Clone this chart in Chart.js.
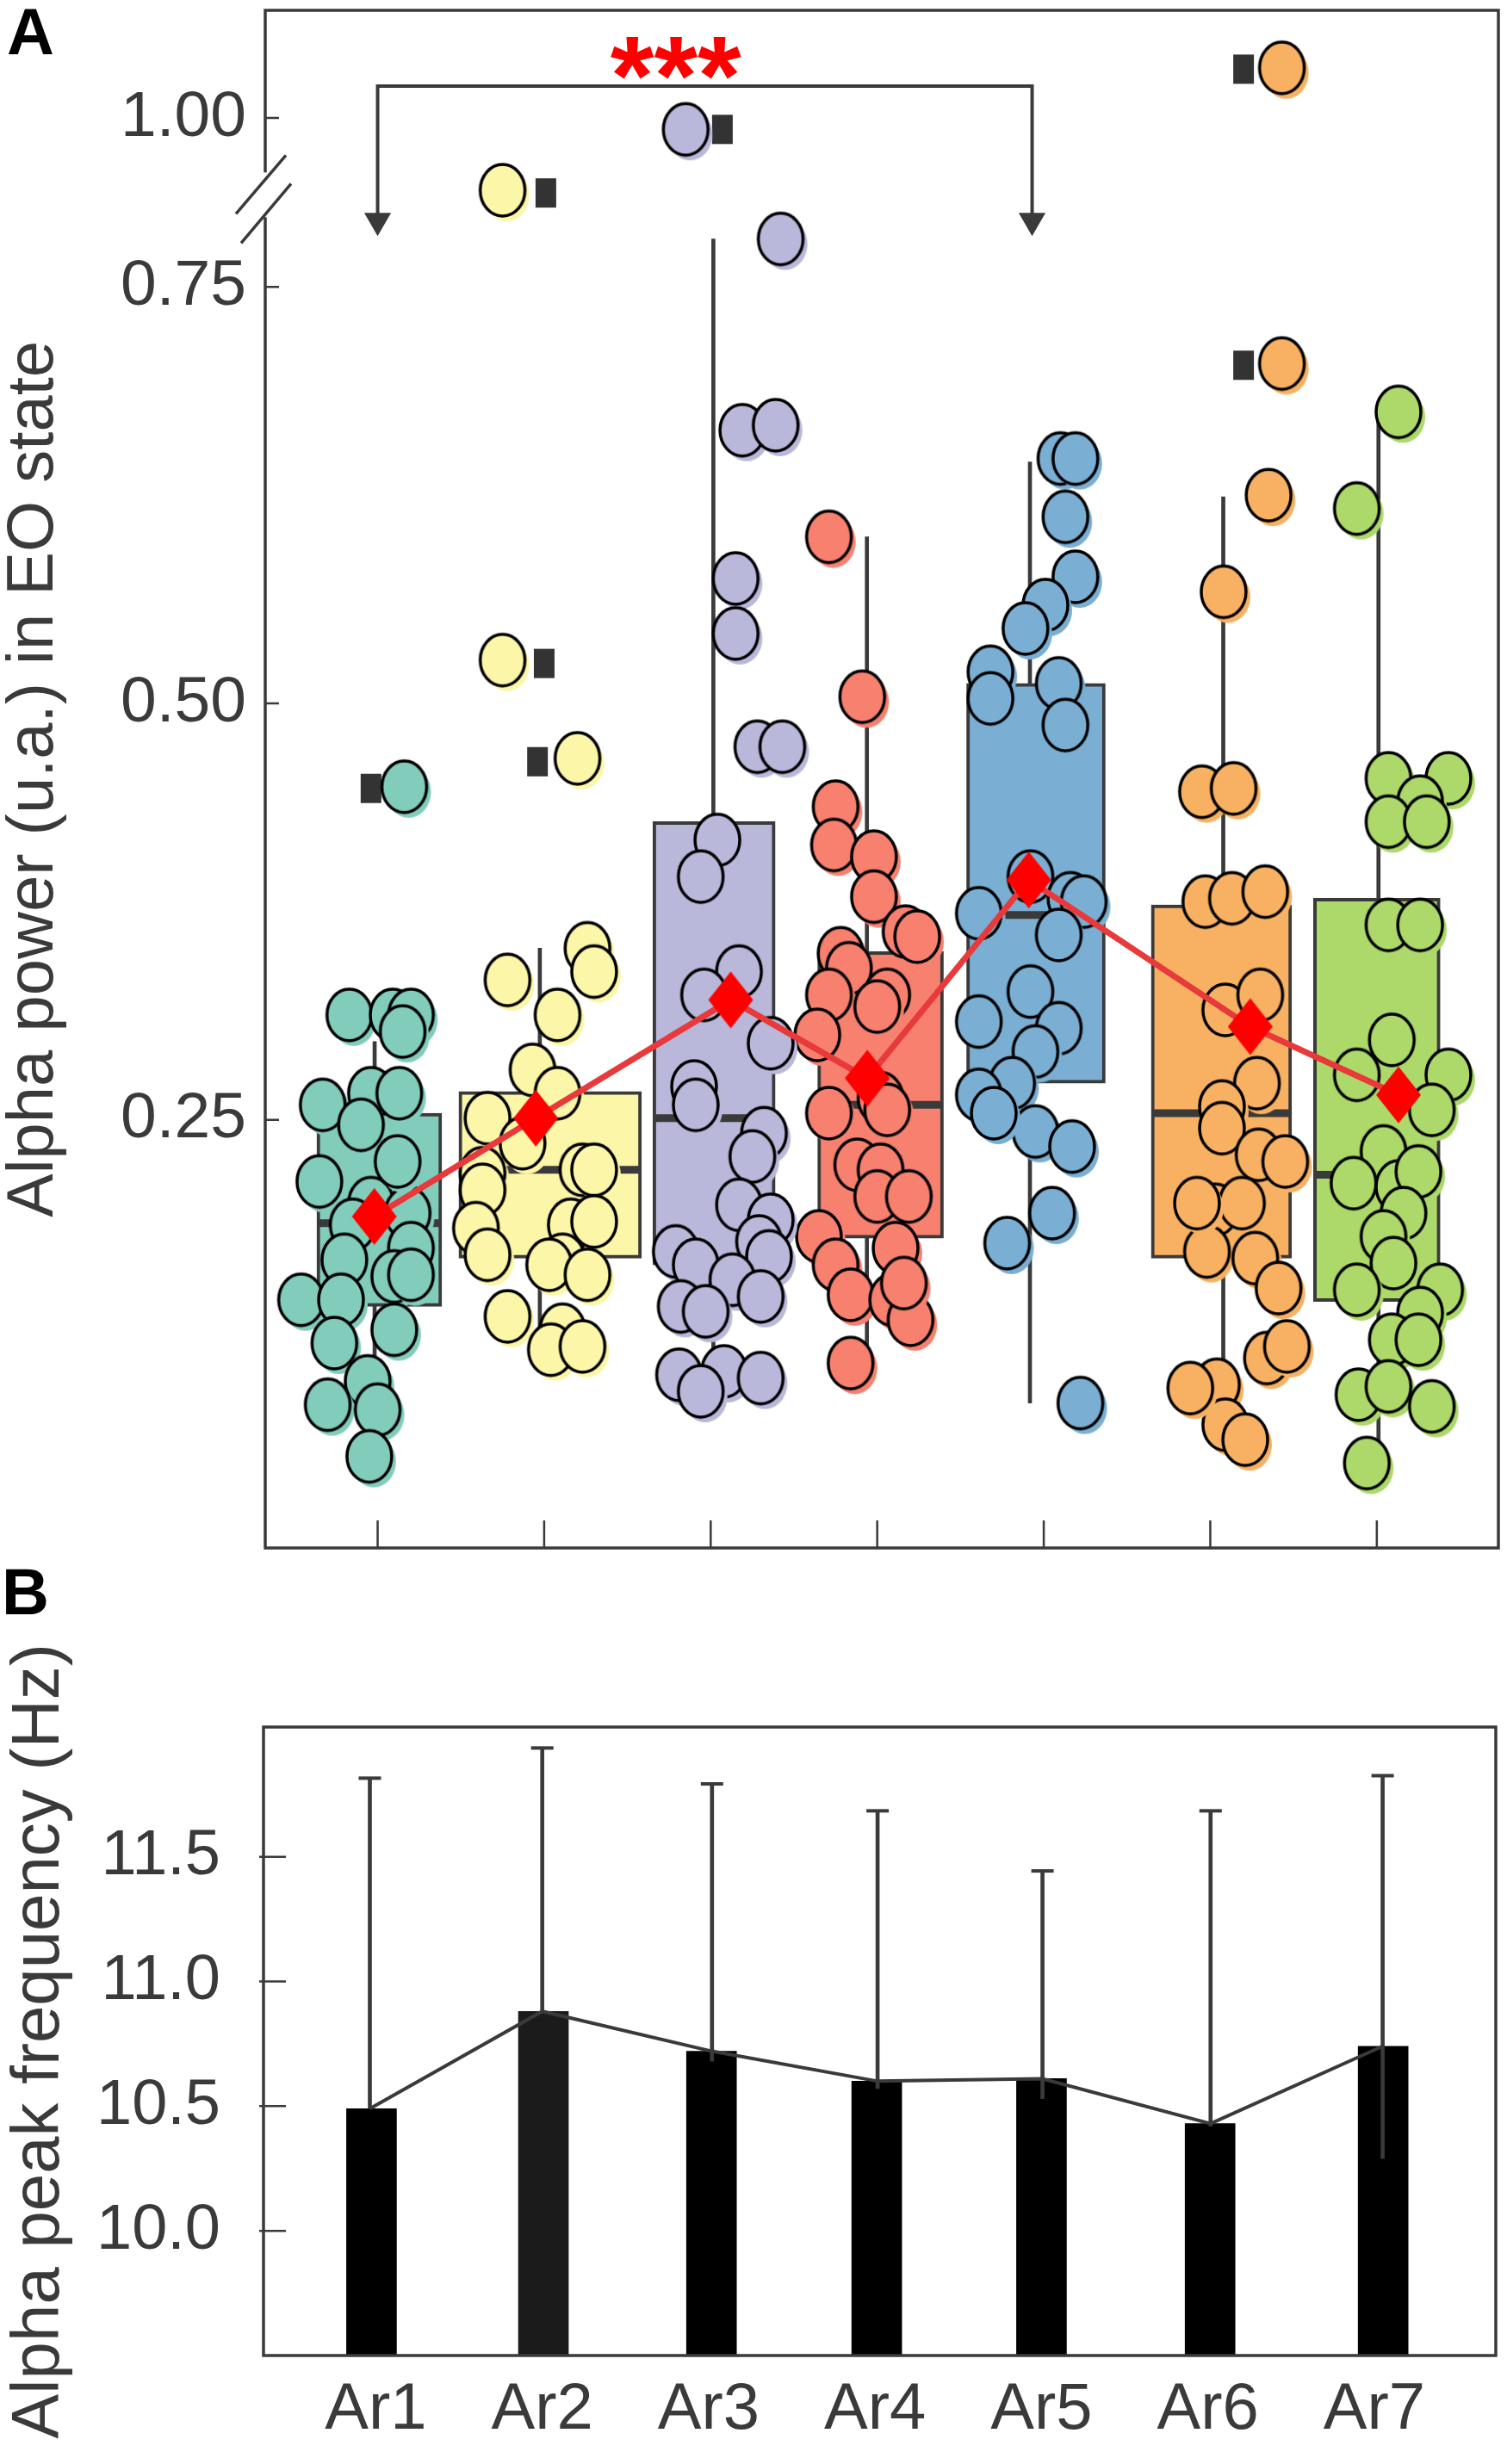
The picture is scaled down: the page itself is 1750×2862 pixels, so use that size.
<!DOCTYPE html>
<html>
<head>
<meta charset="utf-8">
<title>Alpha power / alpha peak frequency per area</title>
<script src="https://cdn.jsdelivr.net/npm/chart.js@4.4.1/dist/chart.umd.min.js"></script>
<style>
  html, body { margin: 0; padding: 0; background: #fff; }
  #page { position: relative; width: 1750px; height: 2862px; background: #fff; font-family: "Liberation Sans", Arial, sans-serif; }
  #page canvas { position: absolute; left: 0; }
  #chartA { top: 0; }
  #chartB { top: 1840px; }
  .tag { position: absolute; font-weight: bold; font-size: 76px; line-height: 1; color: #000; }
</style>
</head>
<body>
<div id="page">
  <canvas id="chartA" width="1750" height="1840"></canvas>
  <canvas id="chartB" width="1750" height="1022"></canvas>
  <div class="tag" style="left:8px;top:-1px">A</div>
  <div class="tag" style="left:2px;top:1811px">B</div>
</div>
<script>
// --- data ---
const GROUPS = ['Ar1', 'Ar2', 'Ar3', 'Ar4', 'Ar5', 'Ar6', 'Ar7'];

// panel A: individual alpha power values + horizontal jitter (in group units)
const ar1Power  = [0.45, 0.313, 0.313, 0.313, 0.303, 0.259, 0.266, 0.266, 0.247, 0.213, 0.204, 0.2, 0.194, 0.187, 0.173, 0.166, 0.156, 0.142, 0.142, 0.157, 0.124, 0.116, 0.093, 0.079, 0.076, 0.048, 0.225];
const ar1Jitter = [0.16, -0.17, 0.09, 0.2, 0.15, -0.33, -0.04, 0.13, -0.1, -0.35, 0.1, -0.04, 0.18, -0.15, 0.2, -0.2, 0.1, -0.46, -0.22, 0.2, 0.1, -0.26, -0.06, -0.3, 0, -0.05, 0.12];
const ar2Power  = [0.893, 0.467, 0.526, 0.334, 0.353, 0.339, 0.313, 0.28, 0.266, 0.251, 0.236, 0.218, 0.208, 0.22, 0.22, 0.185, 0.169, 0.187, 0.189, 0.166, 0.163, 0.157, 0.132, 0.124, 0.112, 0.114];
const ar2Jitter = [-0.25, 0.2, -0.25, -0.22, 0.26, 0.3, 0.08, -0.07, 0.08, -0.34, -0.13, -0.37, -0.37, 0.23, 0.3, -0.41, -0.34, 0.16, 0.3, 0.11, 0.03, 0.26, -0.22, 0.11, 0.04, 0.23];
const ar3Power  = [0.983, 0.821, 0.664, 0.667, 0.575, 0.542, 0.474, 0.474, 0.418, 0.396, 0.339, 0.325, 0.296, 0.27, 0.259, 0.242, 0.228, 0.199, 0.19, 0.177, 0.168, 0.171, 0.163, 0.154, 0.138, 0.135, 0.144, 0.097, 0.099, 0.095, 0.087];
const ar3Jitter = [-0.15, 0.42, 0.19, 0.39, 0.15, 0.15, 0.28, 0.43, 0.04, -0.06, 0.17, -0.04, 0.36, -0.1, -0.09, 0.32, 0.25, 0.17, 0.36, 0.29, 0.35, -0.21, -0.09, 0.13, -0.18, -0.03, 0.3, -0.19, 0.08, 0.3, -0.06];
const ar4Power  = [0.6, 0.504, 0.438, 0.415, 0.408, 0.384, 0.363, 0.36, 0.35, 0.341, 0.325, 0.325, 0.318, 0.301, 0.254, 0.263, 0.256, 0.223, 0.22, 0.204, 0.204, 0.18, 0.163, 0.173, 0.145, 0.142, 0.13, 0.104, 0.152];
const ar4Jitter = [-0.29, -0.09, -0.25, -0.26, -0.02, -0.02, 0.17, 0.24, -0.22, -0.17, -0.29, 0.06, 0, -0.36, -0.29, 0.02, 0.06, -0.12, 0.02, 0, 0.19, -0.35, -0.25, 0.11, -0.16, 0.09, 0.2, -0.16, 0.16];
const ar5Power  = [0.647, 0.647, 0.612, 0.576, 0.559, 0.545, 0.519, 0.503, 0.512, 0.487, 0.396, 0.374, 0.383, 0.381, 0.361, 0.327, 0.309, 0.305, 0.291, 0.272, 0.265, 0.243, 0.234, 0.194, 0.176, 0.08, 0.254];
const ar5Jitter = [0.1, 0.19, 0.13, 0.19, 0.01, -0.11, -0.32, -0.32, 0.09, 0.13, -0.08, -0.39, 0.16, 0.24, 0.09, -0.08, -0.39, 0.09, -0.05, -0.19, -0.39, -0.05, 0.17, 0.05, -0.22, 0.22, -0.3];
const ar6Power  = [1.074, 0.704, 0.625, 0.567, 0.447, 0.449, 0.381, 0.383, 0.387, 0.316, 0.325, 0.272, 0.258, 0.245, 0.229, 0.225, 0.196, 0.2, 0.171, 0.167, 0.149, 0.107, 0.114, 0.091, 0.067, 0.058, 0.089, 0.2];
const ar6Jitter = [0.43, 0.43, 0.35, 0.08, -0.05, 0.14, -0.03, 0.13, 0.33, 0.09, 0.3, 0.28, 0.07, 0.07, 0.29, 0.45, 0.03, 0.19, -0.02, 0.27, 0.41, 0.34, 0.46, 0.04, 0.09, 0.21, -0.12, -0.08];
const ar7Power  = [0.675, 0.617, 0.455, 0.455, 0.441, 0.429, 0.429, 0.367, 0.367, 0.298, 0.277, 0.277, 0.256, 0.231, 0.212, 0.21, 0.219, 0.194, 0.18, 0.164, 0.148, 0.148, 0.134, 0.118, 0.118, 0.085, 0.09, 0.078, 0.044];
const ar7Jitter = [0.13, -0.12, 0.07, 0.43, 0.26, 0.07, 0.3, 0.07, 0.26, 0.09, -0.12, 0.43, 0.33, 0.04, -0.14, 0.13, 0.25, 0.16, 0.04, 0.1, -0.12, 0.38, 0.26, 0.09, 0.25, -0.11, 0.07, 0.33, -0.06];
const POWER  = [ar1Power, ar2Power, ar3Power, ar4Power, ar5Power, ar6Power, ar7Power];
const JITTER = [ar1Jitter, ar2Jitter, ar3Jitter, ar4Jitter, ar5Jitter, ar6Jitter, ar7Jitter];

// box plot stats
const q1        = [0.138, 0.167, 0.163, 0.179, 0.272, 0.167, 0.141];
const median    = [0.188, 0.22, 0.251, 0.259, 0.373, 0.254, 0.217];
const q3        = [0.254, 0.267, 0.429, 0.351, 0.512, 0.379, 0.383];
const whiskerLo = [0.05, 0.12, 0.09, 0.114, 0.08, 0.07, 0.05];
const whiskerHi = [0.297, 0.353, 0.821, 0.60, 0.645, 0.624, 0.669];
const boxDx     = [0.01, 0.036, 0.02, 0.02, -0.047, 0.067, 0];
const whiskerDx = [-0.018, -0.026, 0.016, -0.062, -0.083, 0.078, 0.01];

// outlier markers (group index from 1)
const outGroup = [1, 2, 2, 2, 3, 6, 6];
const outDx    = [-0.04, 0.01, 0, -0.04, 0.07, 0.2, 0.2];
const outPower = [0.449, 0.889, 0.524, 0.465, 0.983, 1.072, 0.703];

// group means (red diamonds)
const meanPower = [0.192, 0.251, 0.322, 0.275, 0.394, 0.306, 0.265];
const meanDx    = [-0.02, -0.05, 0.12, -0.06, -0.09, 0.24, 0.13];

// significance bracket Ar1 -> Ar5
const BRACKET_X = [1, 1, 4.93, 4.93];
const BRACKET_Y = [0.848, 1.047, 1.047, 0.848];
const STARS = '***', STAR_X = 2.79, STAR_Y = 1.005;

const Y_TICKS_A = [0.25, 0.5, 0.75, 1.0];

// panel B: alpha peak frequency
const freqMean  = [10.49, 10.88, 10.72, 10.60, 10.61, 10.43, 10.74];
const freqErrHi = [11.815, 11.936, 11.792, 11.684, 11.443, 11.684, 11.825];
const freqErrLo = [10.49, 10.88, 10.68, 10.57, 10.53, 10.42, 10.29];
const barDx     = [-0.026, 0.007, 0.017, 0.01, 0, 0.013, 0.053];
const errDx     = [-0.036, 0, 0.02, 0.015, 0.006, 0.016, 0.05];
const Y_TICKS_B = [10.0, 10.5, 11.0, 11.5];

// --- styles ---
const COLORS = ['#82ccbc', '#fcf6a8', '#b9b7da', '#f7806f', '#7aaed3', '#f8b162', '#acd96a'];
const BOX_W  = [145, 212, 142, 146, 161, 163, 147];
const INK = '#3a3a3a';
const FONT = '"Liberation Sans", Arial, sans-serif';
const X_MIN = 0.325, X_MAX = 7.73;

Chart.defaults.font.family = FONT;
Chart.defaults.color = INK;

// --- y axis with a break: values above 0.75 are squeezed ---
const BREAK_AT = 0.75, SQUEEZE = 0.406;
const warp = v => v <= BREAK_AT ? v : BREAK_AT + (v - BREAK_AT) * SQUEEZE;
const unwarp = t => t <= BREAK_AT ? t : BREAK_AT + (t - BREAK_AT) / SQUEEZE;

class BrokenScale extends Chart.LinearScale {
  buildTicks() { return Y_TICKS_A.map(v => ({ value: v })); }
  configure() {
    super.configure();
    this._startValue = warp(this.min);
    this._endValue = warp(this.max);
    this._valueRange = this._endValue - this._startValue;
  }
  getPixelForValue(v) { return super.getPixelForValue(warp(v)); }
  getValueForPixel(p) { return unwarp(super.getValueForPixel(p)); }
}
BrokenScale.id = 'broken';
BrokenScale.defaults = Chart.LinearScale.defaults;
Chart.register(BrokenScale);

// --- marker images (ellipse dots, diamond, outlier square) ---
function mkDot(color) {
  const c = document.createElement('canvas');
  c.width = 72; c.height = 82;
  const g = c.getContext('2d');
  g.fillStyle = color;
  g.beginPath(); g.ellipse(41, 47, 26, 30, 0, 0, Math.PI * 2); g.fill();
  g.beginPath(); g.ellipse(36, 41, 26, 30, 0, 0, Math.PI * 2);
  g.fill();
  g.lineWidth = 3.5; g.strokeStyle = '#000'; g.stroke();
  return c;
}
function mkDiamond() {
  const c = document.createElement('canvas');
  c.width = 56; c.height = 70;
  const g = c.getContext('2d');
  g.fillStyle = '#ff0000';
  g.beginPath(); g.moveTo(28, 2); g.lineTo(54, 35); g.lineTo(28, 68); g.lineTo(2, 35); g.closePath(); g.fill();
  return c;
}
function mkSquare() {
  const c = document.createElement('canvas');
  c.width = 28; c.height = 38;
  const g = c.getContext('2d');
  g.fillStyle = '#333';
  g.fillRect(2, 2, 24, 34);
  return c;
}
const dotImgs = COLORS.map(mkDot);
const diamondImg = mkDiamond();
const squareImg = mkSquare();

// --- frame, inner ticks, axis break, stars ---
const decorA = {
  id: 'decorA',
  afterDatasetsDraw(chart) {
    const { ctx, chartArea: a, scales: { x, y } } = chart;
    ctx.save();
    ctx.strokeStyle = INK;
    ctx.lineWidth = 3.5;
    ctx.strokeRect(a.left, a.top, a.right - a.left, a.bottom - a.top);
    ctx.lineWidth = 2.5;
    ctx.beginPath();
    y.ticks.forEach(t => { const py = y.getPixelForValue(t.value); ctx.moveTo(a.left, py); ctx.lineTo(a.left + 16, py); });
    x.ticks.forEach(t => { const px = x.getPixelForValue(t.value); ctx.moveTo(px, a.bottom); ctx.lineTo(px, a.bottom - 32); });
    ctx.stroke();
    // break in the left axis
    const yb = y.getPixelForValue(BREAK_AT);
    ctx.fillStyle = '#fff';
    ctx.fillRect(a.left - 4, yb - 133, 9, 52);
    ctx.lineWidth = 3.5;
    ctx.beginPath();
    ctx.moveTo(a.left - 34, yb - 85); ctx.lineTo(a.left + 24, yb - 153);
    ctx.moveTo(a.left - 28, yb - 51); ctx.lineTo(a.left + 30, yb - 120);
    ctx.stroke();
    // significance
    ctx.fillStyle = '#ff0000';
    ctx.font = 'bold 130px ' + FONT;
    ctx.textAlign = 'center';
    ctx.textBaseline = 'alphabetic';
    ctx.fillText(STARS, x.getPixelForValue(STAR_X), y.getPixelForValue(STAR_Y));
    ctx.restore();
  }
};

const decorB = {
  id: 'decorB',
  afterDatasetsDraw(chart) {
    const { ctx, chartArea: a, scales: { y } } = chart;
    ctx.save();
    ctx.strokeStyle = INK;
    ctx.lineWidth = 3.5;
    ctx.strokeRect(a.left, a.top, a.right - a.left, a.bottom - a.top);
    ctx.lineWidth = 2.5;
    ctx.beginPath();
    y.ticks.forEach(t => { const py = y.getPixelForValue(t.value); ctx.moveTo(a.left - 5, py); ctx.lineTo(a.left + 26, py); });
    ctx.stroke();
    ctx.restore();
  }
};

// --- panel A ---
const boxSets = GROUPS.map((g, i) => ({
  type: 'bar', label: g + ' box',
  data: [{ x: i + 1 + boxDx[i], y: [q1[i], q3[i]] }],
  backgroundColor: COLORS[i], borderColor: INK, borderWidth: 4, borderSkipped: false,
  barThickness: BOX_W[i], grouped: false, order: 19
}));
const dotSets = GROUPS.map((g, i) => ({
  type: 'scatter', label: g,
  data: POWER[i].map((v, j) => ({ x: i + 1 + JITTER[i][j], y: v })),
  pointStyle: dotImgs[i], pointRadius: 20, order: 10
}));

new Chart(document.getElementById('chartA'), {
  type: 'bar',
  data: {
    datasets: [
      {
        type: 'bar', label: 'whiskers',
        data: GROUPS.map((g, i) => ({ x: i + 1 + whiskerDx[i], y: [whiskerLo[i], whiskerHi[i]] })),
        backgroundColor: INK, barThickness: 4, grouped: false, order: 20
      },
      ...boxSets,
      {
        type: 'scatter', label: 'median',
        data: GROUPS.map((g, i) => ({ x: i + 1 + boxDx[i], y: median[i] })),
        pointStyle: 'line', pointRadius: BOX_W.map(w => w / 2 - 3),
        pointBorderColor: INK, pointBorderWidth: 9, order: 18
      },
      {
        type: 'scatter', label: 'outliers',
        data: outGroup.map((g, k) => ({ x: g + outDx[k], y: outPower[k] })),
        pointStyle: squareImg, pointRadius: 10, order: 11
      },
      ...dotSets,
      {
        type: 'line', label: 'bracket',
        data: BRACKET_X.map((x, k) => ({ x, y: BRACKET_Y[k] })),
        borderColor: INK, borderWidth: 4, tension: 0,
        pointStyle: 'triangle', pointRotation: 180, pointRadius: [18, 0, 0, 18],
        pointBackgroundColor: INK, pointBorderWidth: 0, order: 5
      },
      {
        type: 'line', label: 'mean',
        data: GROUPS.map((g, i) => ({ x: i + 1 + meanDx[i], y: meanPower[i] })),
        borderColor: '#e8393b', borderWidth: 7, tension: 0,
        pointStyle: diamondImg, pointRadius: 20, order: 1
      }
    ]
  },
  options: {
    responsive: false,
    animation: false,
    events: [],
    layout: { autoPadding: false, padding: { top: 12, right: 10, bottom: 42, left: 0 } },
    plugins: { legend: { display: false }, tooltip: { enabled: false } },
    scales: {
      x: {
        type: 'linear', min: X_MIN, max: X_MAX, offset: false,
        grid: { display: false, drawTicks: false, offset: false }, border: { display: false },
        ticks: { display: false },
        afterBuildTicks: s => { s.ticks = GROUPS.map((g, i) => ({ value: i + 1 })); },
        afterFit: s => { s.height = 0; s.paddingLeft = 0; s.paddingRight = 0; }
      },
      y: {
        type: 'broken', min: -0.007, max: 1.159,
        grid: { display: false, drawTicks: false }, border: { display: false },
        ticks: { font: { size: 75 }, color: INK, padding: 22, callback: v => Number(v).toFixed(2) },
        title: {
          display: true, text: 'Alpha power (u.a.) in EO state', color: INK,
          font: { size: 76, lineHeight: 1 }, padding: { top: 2, bottom: 0 }
        },
        afterFit: s => { s.width = 308; s.paddingTop = 0; s.paddingBottom = 0; }
      }
    }
  },
  plugins: [decorA]
});

// --- panel B ---
new Chart(document.getElementById('chartB'), {
  type: 'bar',
  data: {
    datasets: [
      {
        type: 'bar', label: 'Alpha peak frequency',
        data: freqMean.map((v, i) => ({ x: i + 1 + barDx[i], y: v })),
        backgroundColor: ['#000', '#1b1b1b', '#000', '#000', '#000', '#000', '#000'],
        barThickness: 58, grouped: false, order: 5
      },
      {
        type: 'line', label: 'trend',
        data: freqMean.map((v, i) => ({ x: i + 1 + errDx[i], y: v })),
        borderColor: INK, borderWidth: 4, pointRadius: 0, tension: 0, order: 3
      },
      {
        type: 'bar', label: 'error',
        data: freqMean.map((v, i) => ({ x: i + 1 + errDx[i], y: [freqErrLo[i], freqErrHi[i]] })),
        backgroundColor: INK, barThickness: 4, grouped: false, order: 2
      },
      {
        type: 'scatter', label: 'cap',
        data: freqErrHi.map((v, i) => ({ x: i + 1 + errDx[i], y: v })),
        pointStyle: 'line', pointRadius: 13, pointBorderColor: INK, pointBorderWidth: 4, order: 1
      }
    ]
  },
  options: {
    responsive: false,
    animation: false,
    events: [],
    layout: { autoPadding: false, padding: { top: 166, right: 13, bottom: 0, left: 0 } },
    plugins: { legend: { display: false }, tooltip: { enabled: false } },
    scales: {
      x: {
        type: 'linear', min: X_MIN, max: X_MAX, offset: false,
        grid: { display: false, drawTicks: false, offset: false }, border: { display: false },
        ticks: {
          font: { size: 76 }, color: INK, padding: 18, maxRotation: 0, autoSkip: false,
          callback: v => GROUPS[Math.round(v) - 1] || ''
        },
        afterBuildTicks: s => { s.ticks = GROUPS.map((g, i) => ({ value: i + 1 })); },
        afterFit: s => { s.height = 126; s.paddingLeft = 0; s.paddingRight = 0; }
      },
      y: {
        type: 'linear', min: 9.5, max: 12.02,
        grid: { display: false, drawTicks: false }, border: { display: false },
        afterBuildTicks: s => { s.ticks = Y_TICKS_B.map(v => ({ value: v })); },
        ticks: { font: { size: 74 }, color: INK, padding: 50, callback: v => Number(v).toFixed(1) },
        title: {
          display: true, text: 'Alpha peak frequency (Hz)', color: INK,
          font: { size: 78, lineHeight: 1 }, padding: { top: 7, bottom: 0 }
        },
        afterFit: s => { s.width = 306; s.paddingTop = 0; s.paddingBottom = 0; }
      }
    }
  },
  plugins: [decorB]
});
</script>
</body>
</html>
